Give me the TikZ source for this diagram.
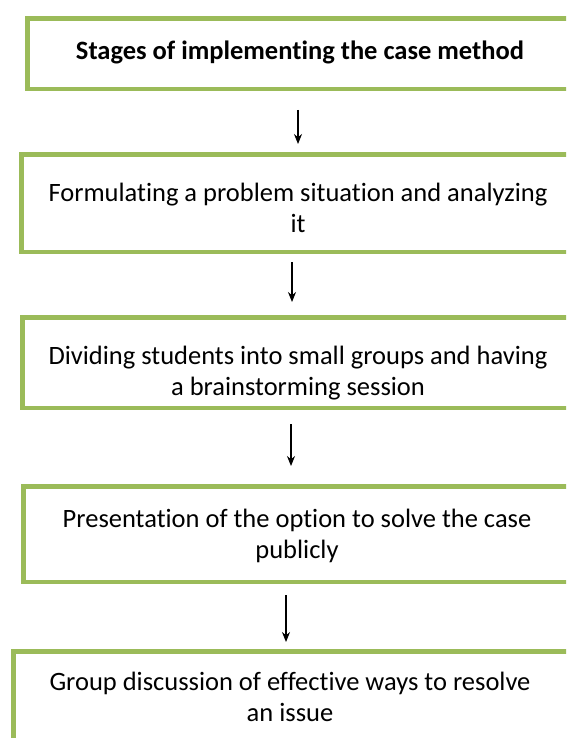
\documentclass[tikz,border=0pt]{standalone}
\usepackage{fontspec}
\setmainfont{Carlito}[Ligatures={NoCommon}]
\usetikzlibrary{arrows.meta}
\definecolor{boxgreen}{HTML}{9BBB59}
\tikzset{
  stagebox/.style={draw=boxgreen, line width=4.5pt, rectangle, fill=white, inner sep=0pt, anchor=north west},
  stagetext/.style={align=center, font=\fontsize{26.5}{31}\selectfont, inner sep=0pt},
  flowarrow/.style={-{Stealth[length=10pt,width=8pt]}, line width=1.1pt, black}
}
\begin{document}
\begin{tikzpicture}[x=1pt,y=-1pt]
\useasboundingbox (0,0) rectangle (566,738);
\clip (0,0) rectangle (566,738);
% boxes (outer edges measured from the reference; path is inset by half the line width)
\node[stagebox, minimum width=549.5pt, minimum height=70.5pt] (b1) at (25.25,16.25) {};
\node[stagebox, minimum width=556.5pt, minimum height=97.5pt] (b2) at (19.25,152.25) {};
\node[stagebox, minimum width=555.5pt, minimum height=90.5pt] (b3) at (20.25,315.25) {};
\node[stagebox, minimum width=554.5pt, minimum height=95.5pt] (b4) at (21.25,484.25) {};
\node[stagebox, minimum width=557.5pt, minimum height=120pt] (b5) at (11.25,649.25) {};
% texts
\node[stagetext, font=\fontsize{26.5}{31}\selectfont\bfseries] (t1) at (300,52) {Stages of implementing the case method};
\node[stagetext] (t2) at (298,208) {Formulating a problem situation and analyzing\\it};
\node[stagetext] (t3) at (298,373) {Dividing students into small groups and having\\a brainstorming session};
\node[stagetext] (t4) at (297,536) {Presentation of the option to solve the case\\publicly};
\node[stagetext] (t5) at (290,697) {Group discussion of effective ways to resolve\\an issue};
% arrows (free-standing between boxes)
\coordinate (a1s) at (298,110); \coordinate (a1e) at (298,144);
\coordinate (a2s) at (292,262); \coordinate (a2e) at (292,302);
\coordinate (a3s) at (291,424); \coordinate (a3e) at (291,466);
\coordinate (a4s) at (286,595); \coordinate (a4e) at (286,642);
\draw[flowarrow] (a1s) -- (a1e);
\draw[flowarrow] (a2s) -- (a2e);
\draw[flowarrow] (a3s) -- (a3e);
\draw[flowarrow] (a4s) -- (a4e);
\end{tikzpicture}
\end{document}
